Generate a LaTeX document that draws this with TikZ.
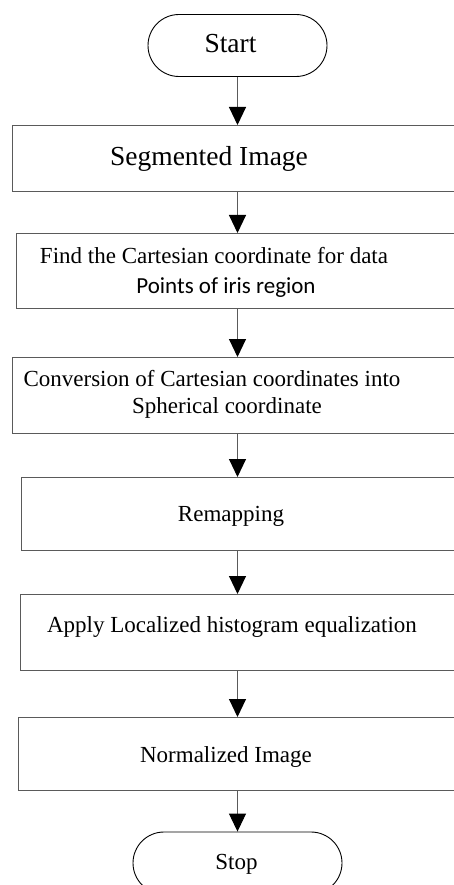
\documentclass[tikz,border=0pt]{standalone}
\usepackage{fontspec}
\setmainfont{Liberation Serif}
\newfontfamily\calfont{Carlito}
\usepackage{xcolor}
\usetikzlibrary{positioning,arrows.meta,shapes.misc}
\definecolor{linegrey}{HTML}{5A5A5A}

\begin{document}
\begin{tikzpicture}[
  x=1pt, y=-1pt,
  every node/.append style={font=\fontsize{23}{27}\selectfont},
  term/.style={rounded rectangle, draw=black, line width=0.9pt, minimum height=62pt, inner sep=0pt},
  procbox/.style={draw=linegrey, line width=1.1pt, anchor=north west, inner sep=0pt},
  txt/.style={anchor=base, inner sep=0pt},
  bigtxt/.style={txt, font=\fontsize{27.5}{33}\selectfont},
  flow/.style={draw=linegrey, line width=1pt, -{Triangle[length=18pt,width=17pt,color=black]}}
]
\useasboundingbox (0,0) rectangle (453,885);

% start / stop terminals
\node[term, minimum width=179pt] (start) at (237.5,45.5) {};
\node[term, minimum width=209pt] (stop) at (237.5,863) {};

% process boxes, run off to the right
\node[procbox, minimum width=460pt, minimum height=66pt] (seg) at (12,125) {};
\node[procbox, minimum width=456pt, minimum height=75pt] (cart) at (16,233) {};
\node[procbox, minimum width=460pt, minimum height=76pt] (conv) at (12,357) {};
\node[procbox, minimum width=451pt, minimum height=73pt] (remap) at (21,477) {};
\node[procbox, minimum width=452pt, minimum height=76pt] (hist) at (20,594) {};
\node[procbox, minimum width=454pt, minimum height=73pt] (norm) at (18,717) {};

% labels
\node[bigtxt] (tstart) at (230.5,53) {Start};
\node[bigtxt] (tseg) at (209,166) {Segmented Image};
\node[txt] (tcart) at (214,263) {Find the Cartesian coordinate for data};
\node[txt, font=\fontsize{23}{27}\calfont] (tpts) at (226,293) {Points of iris region};
\node[txt] (tconv) at (212,386) {Conversion of Cartesian coordinates into};
\node[txt] (tsph) at (227,413) {Spherical coordinate};
\node[txt] (tremap) at (231,521) {Remapping};
\node[txt] (thist) at (232,632) {Apply Localized histogram equalization};
\node[txt] (tnorm) at (226,762) {Normalized Image};
\node[txt] (tstop) at (236.5,869) {Stop};

% connectors
\draw[flow] (start.south) -- (start.south |- seg.north);
\draw[flow] (start.south |- seg.south) -- (start.south |- cart.north);
\draw[flow] (start.south |- cart.south) -- (start.south |- conv.north);
\draw[flow] (start.south |- conv.south) -- (start.south |- remap.north);
\draw[flow] (start.south |- remap.south) -- (start.south |- hist.north);
\draw[flow] (start.south |- hist.south) -- (start.south |- norm.north);
\draw[flow] (start.south |- norm.south) -- (stop.north);
\end{tikzpicture}
\end{document}
